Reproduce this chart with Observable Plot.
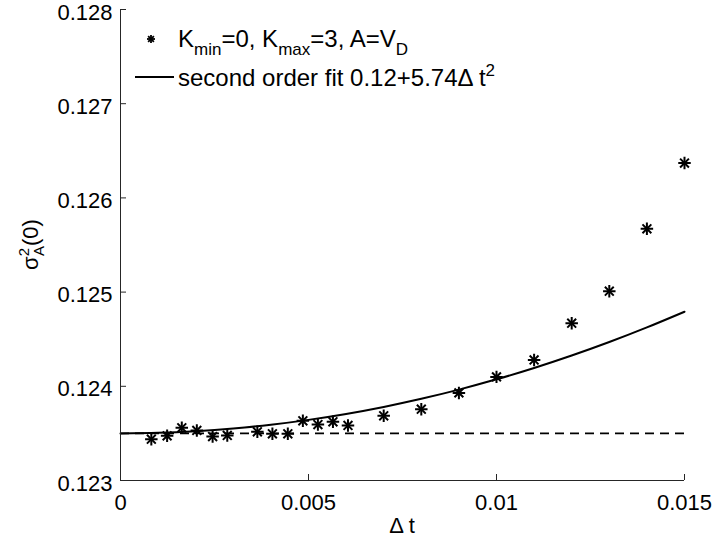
<!DOCTYPE html>
<html><head><meta charset="utf-8">
<script src="https://cdn.jsdelivr.net/npm/d3@7"></script>
<script src="https://cdn.jsdelivr.net/npm/@observablehq/plot@0.6"></script>
<style>body{margin:0;background:#fff} #chart{position:relative;width:714px;height:542px}</style>
</head><body><div id="chart"></div>
<script>
// ---- data ----
const dt = [0.00082,0.00124,0.00163,0.00203,0.00245,0.00284,0.00364,0.00404,0.00445,0.00485,0.00525,0.00565,0.00605,0.0070,0.0080,0.0090,0.0100,0.0110,0.0120,0.0130,0.0140,0.0150];
const sigma2 = [0.123438,0.123474,0.123559,0.123531,0.123467,0.123478,0.123517,0.123496,0.123496,0.123634,0.123594,0.123623,0.123584,0.123687,0.123757,0.12393,0.12410,0.12428,0.12467,0.12501,0.125672,0.12637];
const xTicks = [0, 0.005, 0.01, 0.015];
const xTickLabels = ["0", "0.005", "0.01", "0.015"];
const yTicks = [0.123, 0.124, 0.125, 0.126, 0.127, 0.128];
const yTickLabels = ["0.123", "0.124", "0.125", "0.126", "0.127", "0.128"];
const fitIntercept = 0.1235;   // dashed baseline / fit intercept
const fitCoef = 5.74;
const fitGrid = [0,0.001,0.002,0.003,0.004,0.005,0.006,0.007,0.008,0.009,0.010,0.011,0.012,0.013,0.014,0.015];

// ---- layout ----
const W = 714, H = 542, mL = 120, mR = 30, mT = 9, mB = 62;
const FONT = "'Liberation Sans', Arial, Helvetica, sans-serif";
const xDomain = [0, 0.015], yDomain = [0.123, 0.128];
const tickPx = 6;
const tickDy = tickPx / (H - mT - mB) * (yDomain[1] - yDomain[0]);
const tickDx = tickPx / (W - mL - mR) * (xDomain[1] - xDomain[0]);

const points = dt.map((t, i) => ({t, v: sigma2[i]}));
const fit = fitGrid.map(t => ({t, v: fitIntercept + fitCoef * t * t}));
const axisColor = "#262626";

const plot = Plot.plot({
  width: W, height: H, marginLeft: mL, marginRight: mR, marginTop: mT, marginBottom: mB,
  style: {fontFamily: FONT, fontSize: "22px", color: "#000", background: "#fff", overflow: "visible"},
  x: {domain: xDomain},
  y: {domain: yDomain},
  marks: [
    Plot.ruleY([fitIntercept], {x1: xDomain[0], x2: xDomain[1], stroke: "#000", strokeWidth: 1.8, strokeDasharray: "9,6"}),
    Plot.line(fit, {x: "t", y: "v", stroke: "#000", strokeWidth: 2, curve: "natural"}),
    Plot.dot(points, {x: "t", y: "v", symbol: "plus", r: 4.1, stroke: "#000", strokeWidth: 2}),
    Plot.dot(points, {x: "t", y: "v", symbol: "times", r: 4.1, stroke: "#000", strokeWidth: 2}),
    Plot.ruleX([xDomain[0]], {stroke: axisColor, strokeWidth: 1}),
    Plot.ruleY([yDomain[0]], {stroke: axisColor, strokeWidth: 1}),
    Plot.ruleX(xTicks, {x: d => d, y1: yDomain[0], y2: yDomain[0] + tickDy, stroke: axisColor}),
    Plot.ruleY(yTicks, {y: d => d, x1: xDomain[0], x2: xDomain[0] + tickDx, stroke: axisColor}),
    Plot.axisX({ticks: xTicks, tickFormat: d => xTickLabels[xTicks.indexOf(d)], tickSize: 0, tickPadding: 14, label: null, fontSize: 22}),
    Plot.axisY({ticks: yTicks, tickFormat: d => yTickLabels[yTicks.indexOf(d)], tickSize: 0, tickPadding: 8, label: null, fontSize: 22, dy: 3})
  ]
});
document.getElementById("chart").appendChild(plot);

// ---- annotations: axis titles and legend ----
const svg = d3.select(plot);
const g = svg.append("g").attr("font-family", FONT).attr("fill", "#000").attr("text-anchor", "start");

// x label
g.append("text").attr("x", mL + (W - mL - mR) / 2).attr("y", 533).attr("text-anchor", "middle")
  .attr("font-size", 22).text("Δ t");

// y label (rotated)
const yl = g.append("text").attr("transform", `translate(38, ${mT + (H - mT - mB) / 2}) rotate(-90)`)
  .attr("text-anchor", "middle").attr("font-size", 22);
yl.append("tspan").text("σ");
yl.append("tspan").attr("font-size", 15).attr("dy", -9).text("2");
yl.append("tspan").attr("font-size", 15).attr("dx", -8).attr("dy", 15).text("A");
yl.append("tspan").attr("dy", -6).text("(0)");

// legend
const lg = g.append("g");
const sx = 151, sy = 39;
const star = lg.append("g").attr("stroke", "#000").attr("stroke-width", 1.8);
const r = 4.0;
star.append("line").attr("x1", sx - r).attr("x2", sx + r).attr("y1", sy).attr("y2", sy);
star.append("line").attr("x1", sx).attr("x2", sx).attr("y1", sy - r).attr("y2", sy + r);
star.append("line").attr("x1", sx - r * 0.72).attr("x2", sx + r * 0.72).attr("y1", sy - r * 0.72).attr("y2", sy + r * 0.72);
star.append("line").attr("x1", sx - r * 0.72).attr("x2", sx + r * 0.72).attr("y1", sy + r * 0.72).attr("y2", sy - r * 0.72);
const t1 = lg.append("text").attr("x", 178).attr("y", 47).attr("font-size", 24);
t1.append("tspan").text("K");
t1.append("tspan").attr("font-size", 17).attr("dy", 8).text("min");
t1.append("tspan").attr("dy", -8).text("=0, K");
t1.append("tspan").attr("font-size", 17).attr("dy", 8).text("max");
t1.append("tspan").attr("dy", -8).text("=3, A=V");
t1.append("tspan").attr("font-size", 17).attr("dy", 8).text("D");

lg.append("line").attr("x1", 135).attr("x2", 174).attr("y1", 77).attr("y2", 77).attr("stroke", "#000").attr("stroke-width", 2);
const t2 = lg.append("text").attr("x", 178).attr("y", 86).attr("font-size", 24);
t2.append("tspan").text("second order fit 0.12+5.74Δ t");
t2.append("tspan").attr("font-size", 17).attr("dy", -10).text("2");
</script>
</body></html>
